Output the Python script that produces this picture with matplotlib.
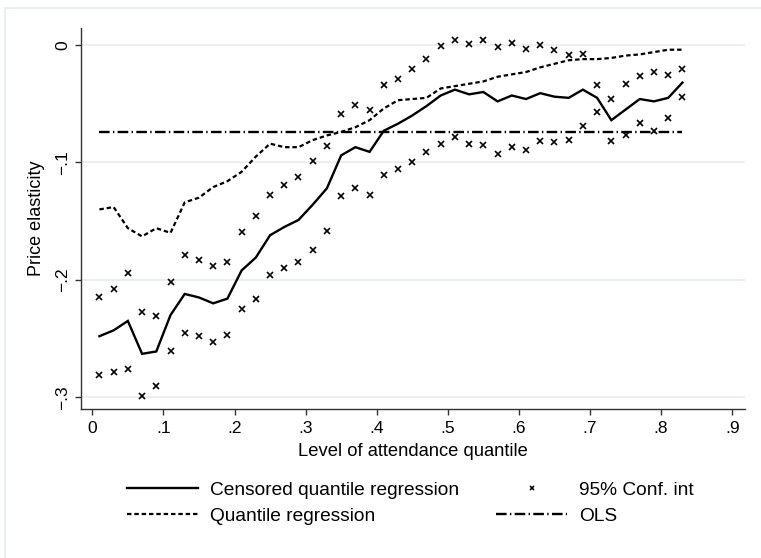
import matplotlib
matplotlib.use('Agg')
import matplotlib.pyplot as plt
from matplotlib.lines import Line2D
import numpy as np

plt.rcParams['font.family'] = ['Liberation Sans', 'DejaVu Sans']
plt.rcParams['font.size'] = 12.5

# quantiles at which the models were estimated
quantiles = [0.01, 0.03, 0.05, 0.07, 0.09, 0.11, 0.13, 0.15, 0.17, 0.19, 0.21,
             0.23, 0.25, 0.27, 0.29, 0.31, 0.33, 0.35, 0.37, 0.39, 0.41, 0.43,
             0.45, 0.47, 0.49, 0.51, 0.53, 0.55, 0.57, 0.59, 0.61, 0.63, 0.65,
             0.67, 0.69, 0.71, 0.73, 0.75, 0.77, 0.79, 0.81, 0.83]

censored_qr = [-0.248, -0.243, -0.235, -0.263, -0.261, -0.230, -0.212, -0.215,
               -0.220, -0.216, -0.192, -0.181, -0.162, -0.155, -0.149, -0.136,
               -0.122, -0.094, -0.087, -0.091, -0.073, -0.067, -0.060, -0.052,
               -0.043, -0.038, -0.042, -0.040, -0.048, -0.043, -0.046, -0.041,
               -0.044, -0.045, -0.038, -0.045, -0.064, -0.055, -0.046, -0.048,
               -0.045, -0.032]

plain_qr = [-0.140, -0.138, -0.156, -0.163, -0.156, -0.160, -0.134, -0.130,
            -0.121, -0.116, -0.108, -0.095, -0.084, -0.087, -0.087, -0.081,
            -0.077, -0.074, -0.070, -0.064, -0.054, -0.047, -0.046, -0.045,
            -0.037, -0.035, -0.033, -0.031, -0.027, -0.025, -0.023, -0.019,
            -0.016, -0.013, -0.012, -0.012, -0.011, -0.009, -0.008, -0.006,
            -0.004, -0.004]

ci_upper = [-0.215, -0.2075, -0.194, -0.227, -0.231, -0.2015, -0.179, -0.183,
            -0.1885, -0.185, -0.159, -0.146, -0.128, -0.119, -0.112, -0.0985,
            -0.086, -0.059, -0.051, -0.055, -0.034, -0.029, -0.020, -0.012,
            -0.001, 0.004, 0.001, 0.0045, -0.002, 0.002, -0.003, 0.000,
            -0.004, -0.0085, -0.008, -0.034, -0.046, -0.0335, -0.026, -0.023,
            -0.0255, -0.020]

ci_lower = [-0.281, -0.2785, -0.276, -0.299, -0.290, -0.261, -0.2455, -0.2475,
            -0.253, -0.247, -0.225, -0.2165, -0.196, -0.190, -0.185, -0.175,
            -0.158, -0.1285, -0.122, -0.1275, -0.111, -0.1055, -0.100, -0.091,
            -0.084, -0.078, -0.084, -0.085, -0.093, -0.087, -0.089, -0.0815,
            -0.083, -0.081, -0.069, -0.057, -0.082, -0.077, -0.066, -0.073,
            -0.0625, -0.044]

ols_coef = -0.074

x_ticks = [0, .1, .2, .3, .4, .5, .6, .7, .8, .9]
x_labels = ['0', '.1', '.2', '.3', '.4', '.5', '.6', '.7', '.8', '.9']
y_ticks = [0, -.1, -.2, -.3]
y_labels = ['0', '\u2212.1', '\u2212.2', '\u2212.3']

grid_col = '#e6eef0'

fig = plt.figure(figsize=(7.61, 5.58), dpi=100)
ax = fig.add_axes([81/761, 1 - 409/558, (745 - 81)/761, (409 - 28)/558])

# faint outer frame of the graph region (cropped on right/bottom)
fig.add_artist(Line2D([5/761, 1], [1 - 8/558, 1 - 8/558], transform=fig.transFigure,
                      color=grid_col, lw=1.2))
fig.add_artist(Line2D([5/761, 5/761], [0, 1 - 8/558], transform=fig.transFigure,
                      color=grid_col, lw=1.2))

for yv in y_ticks:
    ax.axhline(yv, color=grid_col, lw=1.2, zorder=0)

h1, = ax.plot(quantiles, censored_qr, color='black', lw=1.7, solid_joinstyle='miter')
h2, = ax.plot(quantiles, plain_qr, color='black', lw=1.6, dashes=(2.0, 1.3))
h3, = ax.plot(quantiles, ci_upper, ls='none', marker='x', ms=5, mew=1.2, color='black')
ax.plot(quantiles, ci_lower, ls='none', marker='x', ms=5, mew=1.2, color='black')
h4, = ax.plot(quantiles, np.full(len(quantiles), ols_coef), color='black', lw=1.7,
              dashes=(4.5, 1.4, 0.6, 1.4))

ax.set_xlim(-0.0159, 0.918)
ax.set_ylim(-0.310, 0.0145)
ax.set_xticks(x_ticks)
ax.set_xticklabels(x_labels)
ax.set_yticks(y_ticks)
ax.set_yticklabels(y_labels, rotation=90, va='center')
ax.tick_params(axis='x', direction='out', length=4, width=1, color='#333333', pad=4.5)
ax.tick_params(axis='y', direction='out', length=4, width=1, color='#333333', pad=4)

for side in ['top', 'right']:
    ax.spines[side].set_visible(False)
for side in ['left', 'bottom']:
    ax.spines[side].set_color('#333333')
    ax.spines[side].set_linewidth(1.0)

ax.set_xlabel('Level of attendance quantile', fontsize=13.2, labelpad=5)
ax.set_ylabel('Price elasticity', fontsize=13.0, labelpad=7)

fig.legend([h1, h2, h3, h4],
           ['Censored quantile regression', 'Quantile regression', '95% Conf. int', 'OLS'],
           ncol=2, loc='center left', bbox_to_anchor=(127/761, 1 - 503/558),
           frameon=False, numpoints=1, markerscale=0.65, fontsize=13.8,
           handlelength=3.7, handletextpad=0.63, columnspacing=1.94,
           labelspacing=0.45, borderpad=0, borderaxespad=0)

fig.savefig('out.png', dpi=100)
